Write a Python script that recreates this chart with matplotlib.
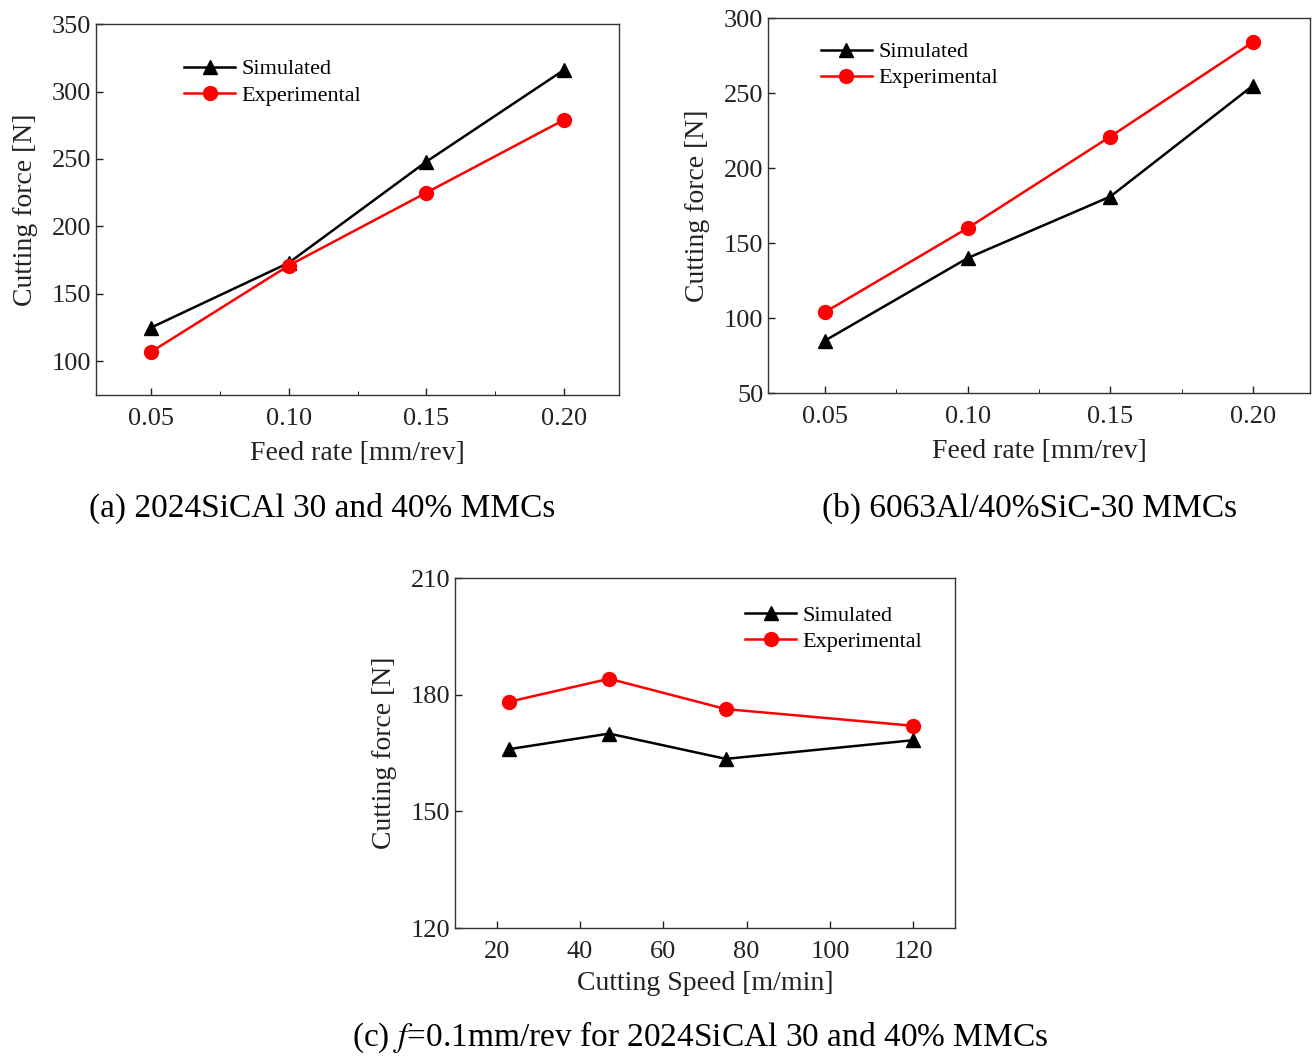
import matplotlib
matplotlib.use("Agg")
import matplotlib.pyplot as plt
from matplotlib.ticker import MultipleLocator

plt.rcParams['font.family'] = ['Liberation Serif', 'DejaVu Serif']
plt.rcParams['mathtext.fontset'] = 'stix'

# (a) 2024SiCAl
feed_a = [0.05, 0.10, 0.15, 0.20]
sim_a = [125, 173, 248, 316]
exp_a = [107, 171, 225, 279]

# (b) 6063Al/40%SiC-30
feed_b = [0.05, 0.10, 0.15, 0.20]
sim_b = [85, 140, 181, 255]
exp_b = [104, 160, 221, 284]

# (c) cutting speed
speed_c = [23, 47, 75, 120]
sim_c = [166, 170, 163.5, 168.3]
exp_c = [178.2, 184.1, 176.3, 172]

captions = ["(a) 2024SiCAl 30 and 40% MMCs",
            "(b) 6063Al/40%SiC-30 MMCs",
            "(c) $\\it{f}$=0.1mm/rev for 2024SiCAl 30 and 40% MMCs"]

fig = plt.figure(figsize=(13.12, 10.56), dpi=100)

ax_a = fig.add_axes([0.0732, 0.6259, 0.3986, 0.3513])
ax_b = fig.add_axes([0.5854, 0.6278, 0.4131, 0.3551])
ax_c = fig.add_axes([0.3468, 0.1212, 0.3811, 0.3314])


def draw(ax, x, sim, exp, anchor):
    ax.plot(x, sim, color='black', marker='^', markersize=10, lw=1.8, label='Simulated')
    ax.plot(x, exp, color='red', marker='o', markersize=10, lw=1.8, label='Experimental')
    ax.tick_params(direction='in', labelsize=19, length=5, width=1, top=False, right=False,
                   colors='#222222')
    ax.tick_params(axis='x', pad=9)
    ax.tick_params(which='minor', direction='in', length=3)
    for s in ax.spines.values():
        s.set_linewidth(1.0)
        s.set_color('#333333')
    ax.set_ylabel('Cutting force [N]', fontsize=20, color='#222222', labelpad=10)
    ax.legend(loc='upper left', bbox_to_anchor=anchor, frameon=False, fontsize=16,
              handlelength=2.3, labelspacing=0.25, handletextpad=0.3)


draw(ax_a, feed_a, sim_a, exp_a, (0.13, 0.96))
ax_a.set_xlim(0.03, 0.22)
ax_a.set_ylim(75, 350)
ax_a.set_xticks(feed_a)
ax_a.set_xticklabels([f"{v:.2f}" for v in feed_a])
ax_a.xaxis.set_minor_locator(MultipleLocator(0.025))
ax_a.set_yticks([100, 150, 200, 250, 300, 350])
ax_a.set_xlabel('Feed rate [mm/rev]', fontsize=20, color='#222222', labelpad=8)

draw(ax_b, feed_b, sim_b, exp_b, (0.06, 0.99))
ax_b.set_xlim(0.03, 0.22)
ax_b.set_ylim(50, 300)
ax_b.set_xticks(feed_b)
ax_b.set_xticklabels([f"{v:.2f}" for v in feed_b])
ax_b.xaxis.set_minor_locator(MultipleLocator(0.025))
ax_b.set_yticks([50, 100, 150, 200, 250, 300])
ax_b.set_xlabel('Feed rate [mm/rev]', fontsize=20, color='#222222', labelpad=8)

draw(ax_c, speed_c, sim_c, exp_c, (0.54, 0.98))
ax_c.set_xlim(10, 130)
ax_c.set_ylim(120, 210)
ax_c.set_xticks([20, 40, 60, 80, 100, 120])
ax_c.set_yticks([120, 150, 180, 210])
ax_c.set_xlabel('Cutting Speed [m/min]', fontsize=20, color='#222222', labelpad=6)

fig.text(322 / 1312, 1 - 508 / 1056, captions[0], ha='center', va='center', fontsize=24)
fig.text(1030 / 1312, 1 - 508 / 1056, captions[1], ha='center', va='center', fontsize=24)
fig.text(700 / 1312, 1 - 1037 / 1056, captions[2], ha='center', va='center', fontsize=24)

fig.savefig('out.png', dpi=100)
